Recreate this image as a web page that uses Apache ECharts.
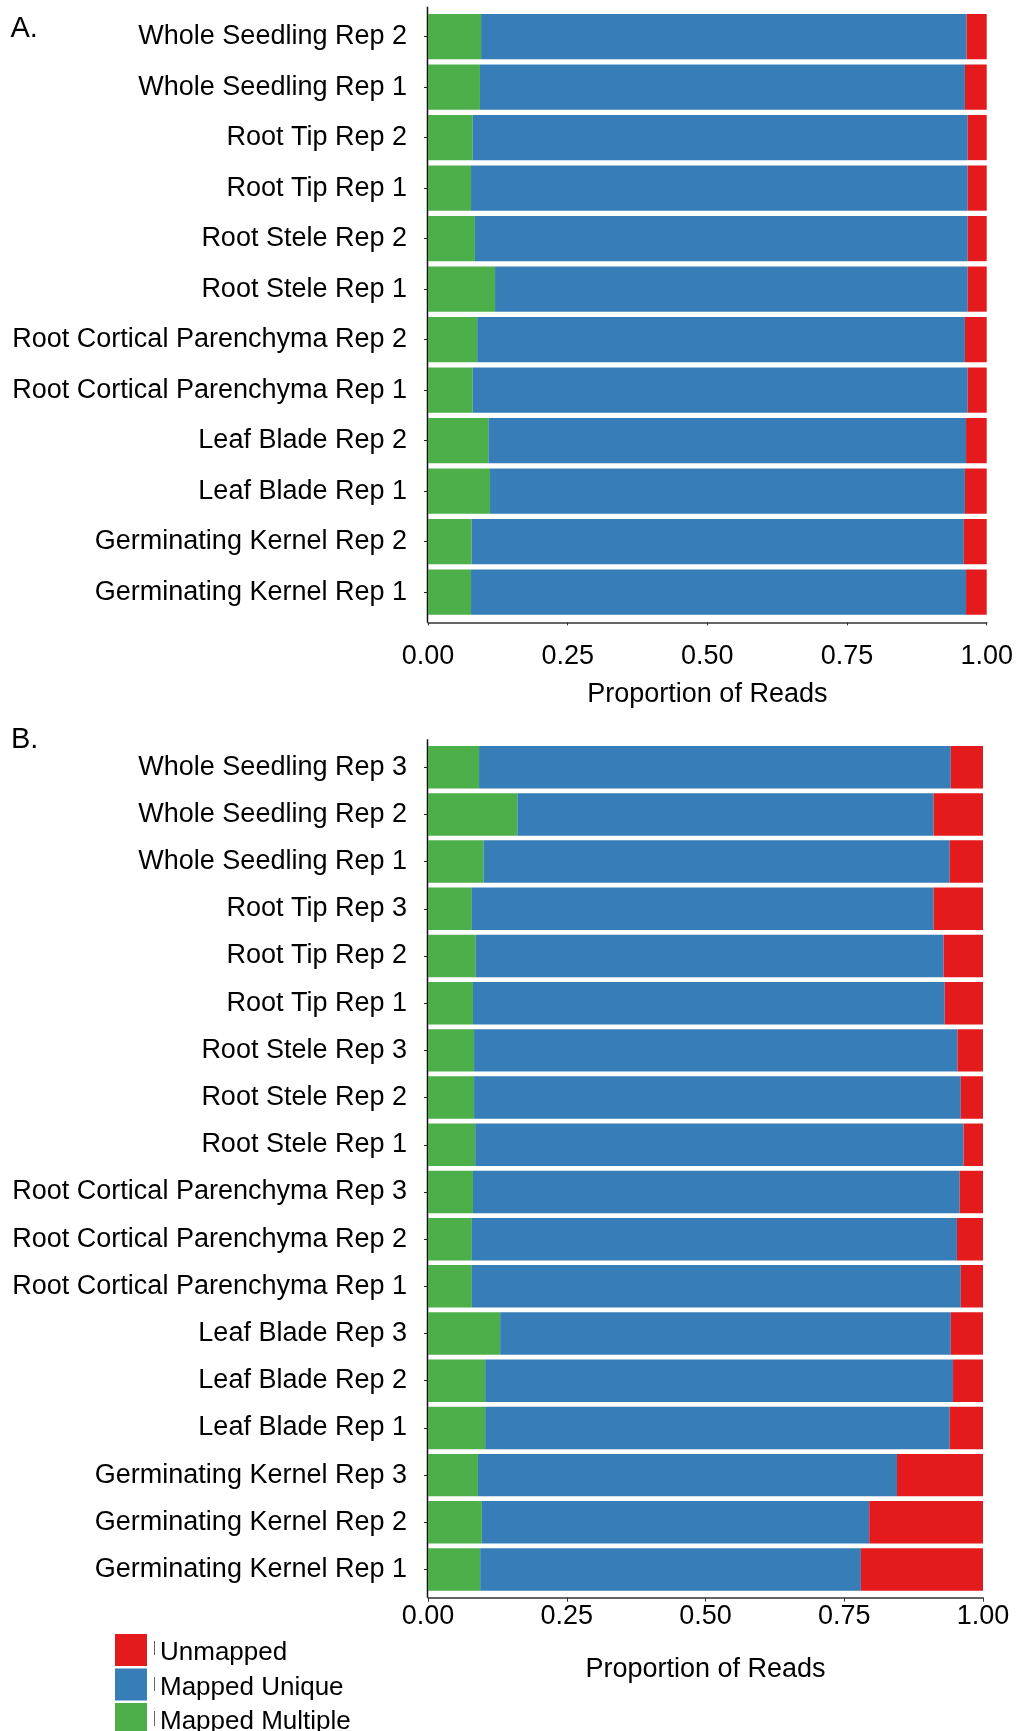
<!DOCTYPE html>
<html>
<head>
<meta charset="utf-8">
<script src="https://cdn.jsdelivr.net/npm/echarts@6/dist/echarts.min.js"></script>
<style>
html,body{margin:0;padding:0;background:#fff;}
#chart{width:1016px;height:1731px;}
</style>
</head>
<body>
<div id="chart"></div>
<script>
// ---------- DATA ----------
const seriesNames = ['Mapped Multiple', 'Mapped Unique', 'Unmapped'];
const legendOrder = ['Unmapped', 'Mapped Unique', 'Mapped Multiple'];
const xTicks = [0, 0.25, 0.5, 0.75, 1];
const axisTitle = 'Proportion of Reads';

// Panel A (top to bottom)
const categoriesA = [
  'Whole Seedling Rep 2', 'Whole Seedling Rep 1',
  'Root Tip Rep 2', 'Root Tip Rep 1',
  'Root Stele Rep 2', 'Root Stele Rep 1',
  'Root Cortical Parenchyma Rep 2', 'Root Cortical Parenchyma Rep 1',
  'Leaf Blade Rep 2', 'Leaf Blade Rep 1',
  'Germinating Kernel Rep 2', 'Germinating Kernel Rep 1'
];
const multipleA = [0.095, 0.093, 0.080, 0.077, 0.084, 0.120, 0.088, 0.080, 0.108, 0.111, 0.078, 0.077];
const uniqueA   = [0.869, 0.868, 0.886, 0.889, 0.882, 0.846, 0.873, 0.886, 0.855, 0.850, 0.881, 0.886];
const unmappedA = [0.036, 0.039, 0.034, 0.034, 0.034, 0.034, 0.039, 0.034, 0.037, 0.039, 0.041, 0.037];

// Panel B (top to bottom)
const categoriesB = [
  'Whole Seedling Rep 3', 'Whole Seedling Rep 2', 'Whole Seedling Rep 1',
  'Root Tip Rep 3', 'Root Tip Rep 2', 'Root Tip Rep 1',
  'Root Stele Rep 3', 'Root Stele Rep 2', 'Root Stele Rep 1',
  'Root Cortical Parenchyma Rep 3', 'Root Cortical Parenchyma Rep 2', 'Root Cortical Parenchyma Rep 1',
  'Leaf Blade Rep 3', 'Leaf Blade Rep 2', 'Leaf Blade Rep 1',
  'Germinating Kernel Rep 3', 'Germinating Kernel Rep 2', 'Germinating Kernel Rep 1'
];
const multipleB = [0.092, 0.161, 0.100, 0.079, 0.086, 0.081, 0.083, 0.083, 0.085, 0.081, 0.079, 0.079, 0.130, 0.103, 0.103, 0.090, 0.097, 0.094];
const uniqueB   = [0.850, 0.750, 0.840, 0.832, 0.843, 0.850, 0.871, 0.877, 0.880, 0.877, 0.874, 0.881, 0.812, 0.843, 0.837, 0.755, 0.698, 0.686];
const unmappedB = [0.058, 0.089, 0.060, 0.089, 0.071, 0.069, 0.046, 0.040, 0.035, 0.042, 0.047, 0.040, 0.058, 0.054, 0.060, 0.155, 0.205, 0.220];

// ---------- STYLE / LAYOUT ----------
const FONT = '"Liberation Sans", Arial, sans-serif';
const colors = {'Mapped Multiple': '#4DAF4A', 'Mapped Unique': '#377EB8', 'Unmapped': '#E41A1C'};
const gA = {left: 428, width: 560, top: 11.3, height: 606.1};
const gB = {left: 428, width: 555, top: 743.6, height: 849.5};
const OFF = 5;

const chart = echarts.init(document.getElementById('chart'), null, {renderer: 'canvas'});

function xAxisCfg(gridIndex, tickLen, labelMargin, nameGap, offset) {
  return {
    type: 'value', gridIndex: gridIndex, min: 0, max: 1, interval: 0.25,
    offset: offset,
    splitLine: {show: false},
    axisLine: {show: true, lineStyle: {color: '#333', width: 1.5}},
    axisTick: {show: true, length: tickLen, lineStyle: {color: '#333', width: 1}},
    axisLabel: {
      margin: labelMargin, fontFamily: FONT, fontSize: 27, color: '#000',
      formatter: v => v.toFixed(2), showMinLabel: true, showMaxLabel: true
    },
    name: axisTitle, nameLocation: 'middle', nameGap: nameGap,
    nameTextStyle: {fontFamily: FONT, fontSize: 27, color: '#000'}
  };
}
function yAxisCfg(gridIndex, cats) {
  return {
    type: 'category', gridIndex: gridIndex, data: cats, inverse: true,
    axisLine: {show: false},
    axisTick: {show: true, length: 4, alignWithLabel: true, lineStyle: {color: '#222', width: 1}},
    axisLabel: {margin: 21, fontFamily: FONT, fontSize: 27, color: '#000', interval: 0}
  };
}
function seriesFor(idx, stack, gap, arrs) {
  return seriesNames.map((n, i) => ({
    name: n, type: 'bar', stack: stack,
    xAxisIndex: idx, yAxisIndex: idx,
    barCategoryGap: gap,
    itemStyle: {color: colors[n]},
    data: arrs[i]
  }));
}

const option = {
  animation: false,
  backgroundColor: '#fff',
  textStyle: {fontFamily: FONT},
  grid: [
    Object.assign({containLabel: false}, gA),
    Object.assign({containLabel: false}, gB)
  ],
  xAxis: [
    xAxisCfg(0, 3, 21, 59, OFF),
    xAxisCfg(1, 4, 5, 58, 4.6)
  ],
  yAxis: [yAxisCfg(0, categoriesA), yAxisCfg(1, categoriesB)],
  legend: {
    orient: 'vertical', left: 110, top: 1629, height: 140,
    itemWidth: 32, itemHeight: 32, itemGap: 2.5,
    icon: 'rect', data: legendOrder,
    formatter: name => '{t|' + name + '}',
    textStyle: {
      fontFamily: FONT, fontSize: 26, color: '#000', padding: [0, 0, 0, 8],
      rich: {t: {fontFamily: FONT, fontSize: 26, color: '#000', lineHeight: 26, padding: [6, 0, 0, 0]}}
    },
    selectedMode: false
  },
  series: [].concat(
    seriesFor(0, 'A', '10.5%', [multipleA, uniqueA, unmappedA]),
    seriesFor(1, 'B', '10%', [multipleB, uniqueB, unmappedB])
  ),
  graphic: [
    {type: 'text', left: 10.5, top: 14, style: {text: 'A.', font: '29px ' + FONT, fill: '#000'}},
    {type: 'text', left: 11, top: 725.5, style: {text: 'B.', font: '29px ' + FONT, fill: '#000'}},
    {type: 'line', shape: {x1: 427.5, y1: gA.top - 4.6, x2: 427.5, y2: gA.top + gA.height + OFF}, style: {stroke: '#111', lineWidth: 1.5}},
    {type: 'line', shape: {x1: 427.5, y1: gB.top - 4.3, x2: 427.5, y2: gB.top + gB.height + 4.6}, style: {stroke: '#111', lineWidth: 1.5}},
    {type: 'line', shape: {x1: 154.5, y1: 1641, x2: 154.5, y2: 1655}, style: {stroke: '#666', lineWidth: 1}},
    {type: 'line', shape: {x1: 154.5, y1: 1677, x2: 154.5, y2: 1691}, style: {stroke: '#666', lineWidth: 1}},
    {type: 'line', shape: {x1: 154.5, y1: 1711, x2: 154.5, y2: 1726}, style: {stroke: '#666', lineWidth: 1}}
  ]
};
chart.setOption(option);
</script>
</body>
</html>
